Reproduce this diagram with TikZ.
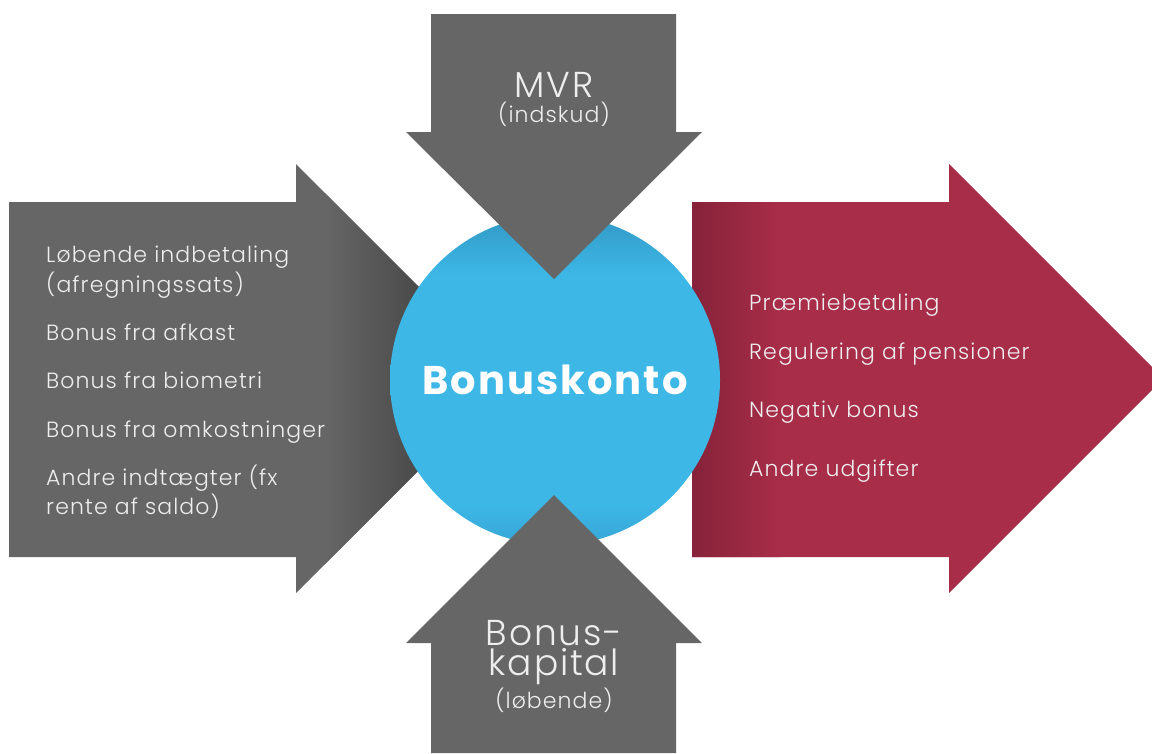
\documentclass[tikz,border=0pt]{standalone}
\usepackage{fontspec}
\setmainfont{Poppins}[UprightFont={* Light},BoldFont={* Bold},LetterSpace=5]

\definecolor{arrowgrey}{HTML}{666666}
\definecolor{arrowdark}{HTML}{4A4A4A}
\definecolor{arrowred}{HTML}{A82D48}
\definecolor{reddark}{HTML}{86223A}
\definecolor{kontoblue}{HTML}{3DB7E6}
\definecolor{kontotop}{HTML}{3298C5}
\definecolor{kontobot}{HTML}{36A6D6}
\definecolor{listgrey}{HTML}{EEEEEE}

\pgfdeclareverticalshading{kontoshade}{100bp}{color(0bp)=(kontobot); color(25bp)=(kontobot); color(31bp)=(kontoblue); color(66bp)=(kontoblue); color(75bp)=(kontotop); color(100bp)=(kontotop)}

\newcommand\leftarrowshape{(9,202) -- (296,202) -- (296,164) -- (510.5,378.5) -- (296,593) -- (296,557) -- (9,557) -- cycle}
\newcommand\rightarrowshape{(692,202) -- (949,202) -- (949,164) -- (1152,367) -- (1152,390) -- (949,593) -- (949,557) -- (692,557) -- cycle}

\tikzset{
  listtext/.style={anchor=base west, inner sep=0pt, text=listgrey, font=\fontsize{22}{26}\selectfont},
  headtext/.style={anchor=base, inner sep=0pt, text=listgrey, font=\fontsize{36}{30}\selectfont},
  subtext/.style={anchor=base, inner sep=0pt, text=listgrey, font=\fontsize{22}{26}\selectfont}
}

\begin{document}
\begin{tikzpicture}[x=1pt,y=-1pt]
    \useasboundingbox (0,0) rectangle (1152,753);

    % incoming and outgoing arrows
    \fill[arrowgrey] \leftarrowshape;
    \begin{scope}
      \clip \leftarrowshape;
      \shade[left color=arrowgrey, right color=arrowdark] (325,150) rectangle (420,600);
      \fill[arrowdark] (420,150) rectangle (520,600);
    \end{scope}

    \fill[arrowred] \rightarrowshape;
    \begin{scope}
      \clip \rightarrowshape;
      \shade[left color=reddark, right color=arrowred] (692,150) rectangle (780,600);
    \end{scope}

    \node[circle, minimum size=330, inner sep=0pt, shading=kontoshade, text=white,
      font=\bfseries\fontsize{40}{46}\selectfont] (konto) at (555,380) {Bonuskonto};

    \fill[arrowgrey] (431,14) -- (676,14) -- (676,132) -- (702,132) -- (554,279) -- (406,132) -- (431,132) -- cycle;
    \fill[arrowgrey] (554,495) -- (702,643) -- (676,643) -- (676,753) -- (431,753) -- (431,643) -- (406,643) -- cycle;

    \node[headtext] (mvr) at (554,97) {MVR};
    \node[subtext] (indskud) at (554,122) {(indskud)};

    \node[headtext, align=center, anchor=north] (bonuskap) at (554,620) {Bonus-\\kapital};
    \node[subtext] (lobende) at (554,708) {(løbende)};

    \node[listtext] (in1) at (46,262) {Løbende indbetaling};
    \node[listtext] (in2) at (46,292) {(afregningssats)};
    \node[listtext] (in3) at (46,340) {Bonus fra afkast};
    \node[listtext] (in4) at (46,388) {Bonus fra biometri};
    \node[listtext] (in5) at (46,437) {Bonus fra omkostninger};
    \node[listtext] (in6) at (46,485) {Andre indtægter (fx};
    \node[listtext] (in7) at (46,514) {rente af saldo)};

    \node[listtext] (out1) at (749,310) {Præmiebetaling};
    \node[listtext] (out2) at (749,359) {Regulering af pensioner};
    \node[listtext] (out3) at (749,417) {Negativ bonus};
    \node[listtext] (out4) at (749,476) {Andre udgifter};
  \end{tikzpicture}
\end{document}
